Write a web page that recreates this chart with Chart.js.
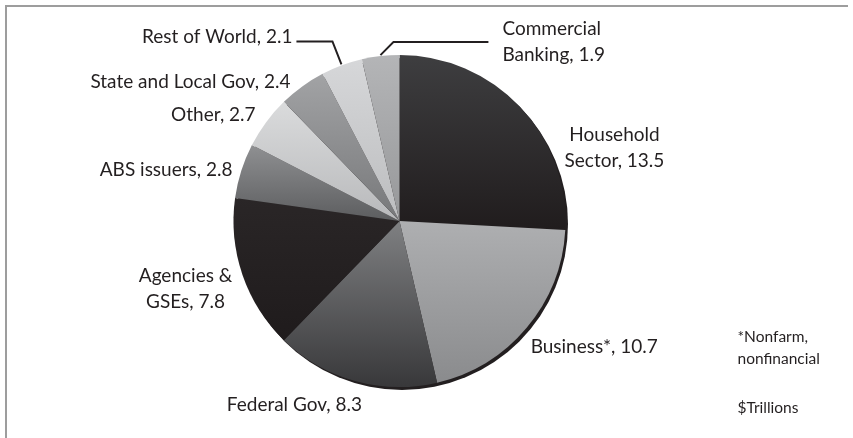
<!DOCTYPE html>
<html>
<head>
<meta charset="utf-8">
<script src="https://cdn.jsdelivr.net/npm/chart.js@4.4.1/dist/chart.umd.min.js"></script>
<style>
  html, body { margin: 0; padding: 0; background: #fff; }
  #wrap { position: relative; width: 853px; height: 438px; }
</style>
</head>
<body>
<div id="wrap"><canvas id="debtChart"></canvas></div>
<script>
// Debt outstanding by sector, $ trillions
const sectorNames = ['Household\nSector', 'Business*', 'Federal Gov', 'Agencies &\nGSEs', 'ABS issuers', 'Other', 'State and Local Gov', 'Rest of World', 'Commercial\nBanking'];
const debtTrillions = [13.5, 10.7, 8.3, 7.8, 2.8, 2.7, 2.4, 2.1, 1.9];
const footNotes = ['*Nonfarm,', 'nonfinancial'];
const unitNote = '$Trillions';

// grey shading for each slice, top to bottom
const shadeTop = ['#3e3e40', '#aeafb1', '#7f8082', '#2a2627', '#8f9092', '#dadbdc', '#a2a3a5', '#d6d7d9', '#b4b5b7'];
const shadeBottom = ['#201c1d', '#8a8b8d', '#38383a', '#1f1b1c', '#5c5d5f', '#b8b9bb', '#77787a', '#bcbdbf', '#97989a'];

const ink = '#231f20';
const labelFont = '19px Lato';
const noteFont = '15.5px Lato';

// where each label sits, in pie radii from the centre
const labelPlacement = [
  { dx: 1.295, dy: -0.52, align: 'center' },
  { dx: 0.79, dy: 0.76, align: 'left' },
  { dx: -0.633, dy: 1.108, align: 'center' },
  { dx: -1.289, dy: 0.331, align: 'center' },
  { dx: -1.006, dy: -0.307, align: 'right' },
  { dx: -0.867, dy: -0.64, align: 'right' },
  { dx: -0.657, dy: -0.837, align: 'right' },
  { dx: -0.645, dy: -1.11, align: 'right', leader: { ex: -9, ey: -23, gap: 4 } },
  { dx: 0.62, dy: -1.157, align: 'left', leader: { ex: 13, ey: -13, gap: 14 } }
];
const lineHeight = 26;

function labelLines(i) {
  const parts = sectorNames[i].split('\n');
  parts[parts.length - 1] += ', ' + debtTrillions[i].toFixed(1);
  return parts;
}

function sliceGradient(context) {
  const chart = context.chart;
  const area = chart.chartArea;
  const i = context.dataIndex;
  if (!area || i === undefined) return shadeTop[i] || '#888';
  const cx = (area.left + area.right) / 2;
  const cy = (area.top + area.bottom) / 2;
  const r = Math.min(area.right - area.left, area.bottom - area.top) / 2;
  const total = debtTrillions.reduce((a, b) => a + b, 0);
  let before = 0;
  for (let k = 0; k < i; k++) before += debtTrillions[k];
  const a0 = -Math.PI / 2 + 2 * Math.PI * before / total;
  const a1 = a0 + 2 * Math.PI * debtTrillions[i] / total;
  let minY = cy, maxY = cy;
  for (let s = 0; s <= 60; s++) {
    const y = cy + r * Math.sin(a0 + (a1 - a0) * s / 60);
    minY = Math.min(minY, y);
    maxY = Math.max(maxY, y);
  }
  const g = chart.ctx.createLinearGradient(0, minY, 0, maxY);
  g.addColorStop(0, shadeTop[i]);
  g.addColorStop(1, shadeBottom[i]);
  return g;
}

const framePlugin = {
  id: 'frame',
  beforeDraw(chart) {
    const c = chart.ctx;
    c.save();
    c.strokeStyle = '#9d9d9d';
    c.lineWidth = 2;
    c.beginPath();
    c.moveTo(6, chart.height);
    c.lineTo(6, 6);
    c.lineTo(848, 6);
    c.stroke();
    c.restore();
  }
};

// dark rim peeking out below and right of the pie
const rimPlugin = {
  id: 'rim',
  beforeDatasetsDraw(chart) {
    const arc = chart.getDatasetMeta(0).data[0];
    if (!arc) return;
    const c = chart.ctx;
    c.save();
    c.fillStyle = ink;
    c.beginPath();
    c.arc(arc.x + 2.5, arc.y + 3, arc.outerRadius, 0, Math.PI * 2);
    c.fill();
    c.restore();
  }
};

const labelPlugin = {
  id: 'sectorLabels',
  afterDatasetsDraw(chart) {
    const c = chart.ctx;
    const arcs = chart.getDatasetMeta(0).data;
    c.save();
    c.fillStyle = ink;
    c.strokeStyle = ink;
    c.textBaseline = 'middle';
    c.font = labelFont;
    arcs.forEach((arc, i) => {
      const p = labelPlacement[i];
      const r = arc.outerRadius;
      const x = arc.x + p.dx * r;
      const y = arc.y + p.dy * r;
      const lines = labelLines(i);
      c.textAlign = p.align;
      lines.forEach((t, k) => c.fillText(t, x, y + k * lineHeight));

      if (p.leader) {
        const mid = (arc.startAngle + arc.endAngle) / 2;
        const sx = arc.x + Math.cos(mid) * (r + 1);
        const sy = arc.y + Math.sin(mid) * (r + 1);
        const elbowX = sx + p.leader.ex;
        const elbowY = sy + p.leader.ey;
        let endX;
        if (p.align === 'right') {
          endX = x + p.leader.gap;
        } else {
          endX = x - p.leader.gap;
        }
        c.lineWidth = 2;
        c.beginPath();
        c.moveTo(sx, sy);
        c.lineTo(elbowX, elbowY);
        c.lineTo(endX, elbowY);
        c.stroke();
      }
    });

    // notes on the right
    const base = chart.getDatasetMeta(0).data[0];
    const nx = base.x + 338;
    c.font = noteFont;
    c.textAlign = 'left';
    footNotes.forEach((t, k) => c.fillText(t, nx, base.y + 116 + k * 22));
    c.fillText(unitNote, nx, base.y + 187);
    c.restore();
  }
};

new Chart(document.getElementById('debtChart'), {
  type: 'pie',
  data: {
    labels: sectorNames.map((n, i) => labelLines(i).join(' ')),
    datasets: [{
      data: debtTrillions,
      backgroundColor: sliceGradient,
      borderWidth: 0
    }]
  },
  options: {
    responsive: true,
    maintainAspectRatio: false,
    devicePixelRatio: 1,
    animation: false,
    layout: { padding: { left: 233, right: 287, top: 55, bottom: 51 } },
    plugins: {
      legend: { display: false },
      tooltip: { enabled: false }
    }
  },
  plugins: [framePlugin, rimPlugin, labelPlugin]
});
</script>
</body>
</html>
